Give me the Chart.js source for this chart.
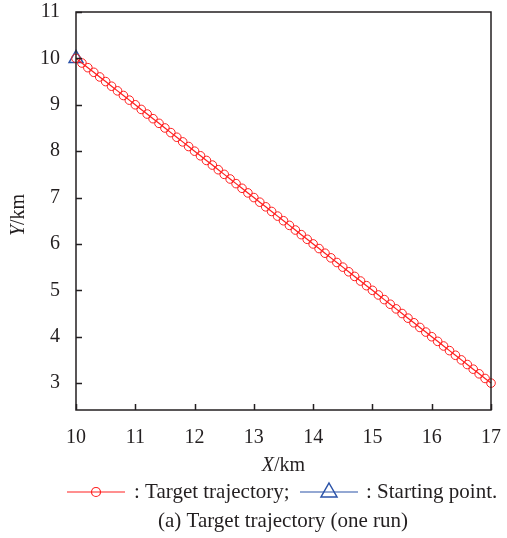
<!DOCTYPE html>
<html>
<head>
<meta charset="utf-8">
<script src="https://cdn.jsdelivr.net/npm/chart.js@4/dist/chart.umd.min.js"></script>
<style>
  html, body { margin: 0; padding: 0; background: #fff; }
  #wrap { width: 507px; height: 538px; position: relative; }
</style>
</head>
<body>
<div id="wrap"><canvas id="myChart"></canvas></div>
<script>
// target trajectory (km)
var trajX = [10.0,10.1,10.2,10.3,10.4,10.5,10.6,10.7,10.8,10.9,
  11.0,11.1,11.2,11.3,11.4,11.5,11.6,11.7,11.8,11.9,
  12.0,12.1,12.2,12.3,12.4,12.5,12.6,12.7,12.8,12.9,
  13.0,13.1,13.2,13.3,13.4,13.5,13.6,13.7,13.8,13.9,
  14.0,14.1,14.2,14.3,14.4,14.5,14.6,14.7,14.8,14.9,
  15.0,15.1,15.2,15.3,15.4,15.5,15.6,15.7,15.8,15.9,
  16.0,16.1,16.2,16.3,16.4,16.5,16.6,16.7,16.8,16.9,17.0];
var trajY = [10.0,9.9,9.8,9.7,9.6,9.5,9.4,9.3,9.2,9.1,
  9.0,8.9,8.8,8.7,8.6,8.5,8.4,8.3,8.2,8.1,
  8.0,7.9,7.8,7.7,7.6,7.5,7.4,7.3,7.2,7.1,
  7.0,6.9,6.8,6.7,6.6,6.5,6.4,6.3,6.2,6.1,
  6.0,5.9,5.8,5.7,5.6,5.5,5.4,5.3,5.2,5.1,
  5.0,4.9,4.8,4.7,4.6,4.5,4.4,4.3,4.2,4.1,
  4.0,3.9,3.8,3.7,3.6,3.5,3.4,3.3,3.2,3.1,3.0];
var startX = [10];
var startY = [10];
var xTicks = [10, 11, 12, 13, 14, 15, 16, 17];
var yTicks = [3, 4, 5, 6, 7, 8, 9, 10, 11];

var RED = '#ff2020';
var BLUE = '#2a52a8';
var INK = '#231f20';
var FONT = '"Liberation Serif", "Times New Roman", serif';

function pts(xs, ys) {
  return xs.map(function (x, i) { return { x: x, y: ys[i] }; });
}

// box, inward ticks, axis titles, legend and caption
var decor = {
  id: 'decor',
  afterDraw: function (chart) {
    var c = chart.ctx, a = chart.chartArea;
    var sx = chart.scales.x, sy = chart.scales.y;
    c.save();
    c.strokeStyle = INK;
    c.lineWidth = 1.5;
    c.strokeRect(a.left, a.top, a.right - a.left, a.bottom - a.top);
    c.beginPath();
    xTicks.forEach(function (v) {
      var px = Math.round(sx.getPixelForValue(v)) + 0.5;
      c.moveTo(px, a.bottom); c.lineTo(px, a.bottom - 6);
    });
    yTicks.forEach(function (v) {
      var py = Math.round(sy.getPixelForValue(v)) + 0.5;
      c.moveTo(a.left, py); c.lineTo(a.left + 6, py);
    });
    c.stroke();

    c.fillStyle = INK;
    c.textBaseline = 'middle';
    // x title
    var cx = (a.left + a.right) / 2;
    c.font = 'italic 20px ' + FONT;
    var w1 = c.measureText('X').width;
    c.font = '20px ' + FONT;
    var w2 = c.measureText('/km').width;
    var x0 = cx - (w1 + w2) / 2;
    c.textAlign = 'left';
    c.font = 'italic 20px ' + FONT;
    c.fillText('X', x0, 466);
    c.font = '20px ' + FONT;
    c.fillText('/km', x0 + w1, 466);
    // y title
    c.save();
    c.translate(19, 215);
    c.rotate(-Math.PI / 2);
    c.font = 'italic 20px ' + FONT;
    w1 = c.measureText('Y').width;
    c.font = '20px ' + FONT;
    w2 = c.measureText('/km').width;
    x0 = -(w1 + w2) / 2;
    c.font = 'italic 20px ' + FONT;
    c.fillText('Y', x0, 0);
    c.font = '20px ' + FONT;
    c.fillText('/km', x0 + w1, 0);
    c.restore();

    // legend
    var ly = 492;
    c.lineWidth = 1.2;
    c.strokeStyle = RED;
    c.beginPath(); c.moveTo(67, ly); c.lineTo(125, ly); c.stroke();
    c.beginPath(); c.arc(96, ly, 4.5, 0, Math.PI * 2); c.stroke();
    c.strokeStyle = BLUE;
    c.beginPath(); c.moveTo(300, ly); c.lineTo(358, ly); c.stroke();
    c.lineWidth = 1.5;
    c.beginPath();
    c.moveTo(329, ly - 9); c.lineTo(337, ly + 5); c.lineTo(321, ly + 5); c.closePath();
    c.stroke();
    c.font = '21px ' + FONT;
    c.fillStyle = INK;
    c.fillText(': Target trajectory;', 134, ly);
    c.fillText(': Starting point.', 366, ly);
    c.textAlign = 'center';
    c.fillText('(a) Target trajectory (one run)', 283, 521);
    c.restore();
  }
};

var ctx = document.getElementById('myChart').getContext('2d');
var myChart = new Chart(ctx, {
  type: 'scatter',
  data: {
    datasets: [{
      label: 'Target trajectory',
      data: pts(trajX, trajY),
      showLine: true,
      borderColor: RED,
      borderWidth: 1.2,
      pointStyle: 'circle',
      pointRadius: 4.3,
      pointBorderColor: RED,
      pointBorderWidth: 1,
      pointBackgroundColor: 'rgba(0,0,0,0)',
      clip: false
    }, {
      label: 'Starting point',
      data: pts(startX, startY),
      pointStyle: 'triangle',
      pointRadius: 8,
      pointBorderColor: BLUE,
      pointBorderWidth: 1.5,
      pointBackgroundColor: 'rgba(0,0,0,0)',
      clip: false
    }]
  },
  options: {
    responsive: true,
    maintainAspectRatio: false,
    animation: false,
    layout: { padding: { top: 12, right: 16, left: 0, bottom: 0 } },
    plugins: { legend: { display: false }, tooltip: { enabled: false } },
    scales: {
      x: {
        type: 'linear',
        min: 10, max: 17,
        afterBuildTicks: function (s) { s.ticks = xTicks.map(function (v) { return { value: v }; }); },
        afterFit: function (s) { s.height = 128; s.paddingLeft = 0; s.paddingRight = 0; },
        grid: { display: false, drawTicks: false },
        border: { display: false },
        ticks: { color: INK, padding: 16, maxRotation: 0, font: { family: FONT, size: 20 } }
      },
      y: {
        type: 'linear',
        min: 2.42, max: 11,
        afterBuildTicks: function (s) { s.ticks = yTicks.map(function (v) { return { value: v }; }); },
        afterFit: function (s) { s.width = 76; s.paddingTop = 0; s.paddingBottom = 0; },
        grid: { display: false, drawTicks: false },
        border: { display: false },
        ticks: { color: INK, padding: 16, font: { family: FONT, size: 20 } }
      }
    }
  },
  plugins: [decor]
});
</script>
</body>
</html>
